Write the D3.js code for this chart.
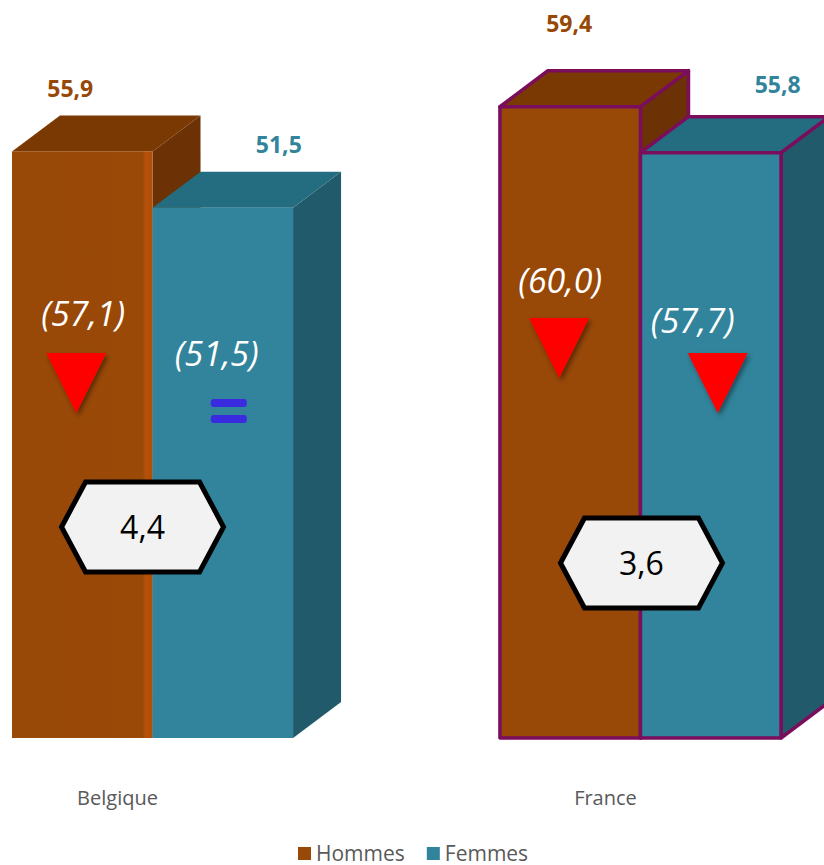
<!DOCTYPE html>
<html>
<head>
<meta charset="utf-8">
<script src="https://cdn.jsdelivr.net/npm/d3@7"></script>
<style>
  html, body { margin: 0; padding: 0; background: #ffffff; }
  svg { display: block; font-family: "Open Sans", "DejaVu Sans", sans-serif; }
</style>
</head>
<body>
<svg id="chart" width="824" height="865"></svg>
<script>
// Taux d'emploi par sexe (valeur de l'année précédente entre parenthèses)
const countries = ["Belgique", "France"];
const series = ["Hommes", "Femmes"];
const hommes = [55.9, 59.4];
const femmes = [51.5, 55.8];
const hommesPrev = [57.1, 60.0];
const femmesPrev = [51.5, 57.7];
const valueLabels = { Hommes: ["55,9", "59,4"], Femmes: ["51,5", "55,8"] };

const fmt = v => d3.format(".1f")(v).replace(".", ",");

const svg = d3.select("#chart");

// Scales
const x = d3.scaleBand().domain(countries).range([12, 781]).paddingInner(0.424);
const xs = d3.scaleBand().domain(series).range([0, x.bandwidth()]);
const y = d3.scaleLinear().domain([10, 60]).range([738, 99]);

const depth = { dx: 48, dy: -36 };

const palette = {
  Hommes: { front: "#984807", top: "#7a3803", side: "#6c3104", label: "#974706" },
  Femmes: { front: "#31849b", top: "#246d81", side: "#215b6b", label: "#31849b" }
};
const outline = { Belgique: null, France: "#7b0d5d" };

// Per-mark text placement (relative to the front face centre / top)
const valueNudge = {
  Belgique: { Hommes: [-12, -54], Femmes: [56, -55] },
  France:   { Hommes: [-1, -75],  Femmes: [67, -60] }
};
const prevNudge = {
  Belgique: { Hommes: [1, 326], Femmes: [-6, 366] },
  France:   { Hommes: [-10, 293], Femmes: [-18, 333] }
};
const markerNudge = {
  Belgique: { Hommes: [-6, 353], Femmes: [6, 399] },
  France:   { Hommes: [-11, 318], Femmes: [7, 353] }
};
const hexY = { Belgique: 527, France: 563 };

const rows = countries.map((c, i) => ({
  country: c,
  bars: [
    { s: "Hommes", v: hommes[i], prev: hommesPrev[i], label: valueLabels.Hommes[i] },
    { s: "Femmes", v: femmes[i], prev: femmesPrev[i], label: valueLabels.Femmes[i] }
  ]
}));

const defs = svg.append("defs");
const shadow = defs.append("filter").attr("id", "shadow")
  .attr("x", "-30%").attr("y", "-30%").attr("width", "160%").attr("height", "160%");
shadow.append("feDropShadow").attr("dx", 2).attr("dy", 3)
  .attr("stdDeviation", 2.5).attr("flood-color", "#000").attr("flood-opacity", 0.45);

const edge = defs.append("linearGradient").attr("id", "edgeH").attr("x1", 0).attr("x2", 1);
edge.append("stop").attr("offset", "0%").attr("stop-color", "#984807");
edge.append("stop").attr("offset", "93%").attr("stop-color", "#9a4907");
edge.append("stop").attr("offset", "95%").attr("stop-color", "#b5500a");
edge.append("stop").attr("offset", "100%").attr("stop-color", "#b14e08");

const base = y.domain()[0];

rows.forEach(row => {
  const g = svg.append("g").attr("class", "group");
  const stroke = outline[row.country];

  row.bars.forEach(b => {
    const x0 = x(row.country) + xs(b.s);
    const w = xs.bandwidth();
    const yt = y(b.v), yb = y(base);
    const { dx, dy } = depth;
    const col = palette[b.s];
    const bar = g.append("g");

    const style = sel => sel
      .attr("stroke", stroke || "none")
      .attr("stroke-width", stroke ? 3.5 : 0)
      .attr("stroke-linejoin", "round");

    bar.append("polygon")
      .attr("points", [[x0 + w, yt], [x0 + w + dx, yt + dy], [x0 + w + dx, yb + dy], [x0 + w, yb]].join(" "))
      .attr("fill", col.side).call(style);
    bar.append("polygon")
      .attr("points", [[x0, yt], [x0 + dx, yt + dy], [x0 + w + dx, yt + dy], [x0 + w, yt]].join(" "))
      .attr("fill", col.top).call(style);
    bar.append("rect")
      .attr("x", x0).attr("y", yt).attr("width", w).attr("height", yb - yt)
      .attr("fill", (!stroke && b.s === "Hommes") ? "url(#edgeH)" : col.front)
      .call(style);
  });
});

// Value labels, previous-year values and trend markers
rows.forEach(row => {
  row.bars.forEach(b => {
    const cx = x(row.country) + xs(b.s) + xs.bandwidth() / 2;
    const yt = y(b.v);
    const vn = valueNudge[row.country][b.s];
    svg.append("text")
      .attr("x", cx + vn[0]).attr("y", yt + vn[1])
      .attr("text-anchor", "middle")
      .attr("font-size", 23).attr("font-weight", 700)
      .attr("fill", palette[b.s].label)
      .text(b.label);

    const pn = prevNudge[row.country][b.s];
    svg.append("text")
      .attr("x", cx + pn[0]).attr("y", pn[1])
      .attr("text-anchor", "middle")
      .attr("font-size", 34).attr("font-style", "italic")
      .attr("fill", "#ffffff")
      .text("(" + fmt(b.prev) + ")");

    const mn = markerNudge[row.country][b.s];
    const mx = cx + mn[0], my = mn[1];
    if (b.v < b.prev) {
      svg.append("polygon")
        .attr("points", [[mx - 30, my], [mx + 30, my], [mx, my + 60]].join(" "))
        .attr("fill", "#ff0000")
        .attr("filter", "url(#shadow)");
    } else if (b.v > b.prev) {
      svg.append("polygon")
        .attr("points", [[mx - 30, my + 60], [mx + 30, my + 60], [mx, my]].join(" "))
        .attr("fill", "#00b050")
        .attr("filter", "url(#shadow)");
    } else {
      [0, 16].forEach(off => {
        svg.append("rect")
          .attr("x", mx - 18).attr("y", my + off)
          .attr("width", 36).attr("height", 8).attr("rx", 3)
          .attr("fill", "#3b2be0");
      });
    }
  });

  // Gap badge (Hommes - Femmes)
  const gap = row.bars[0].v - row.bars[1].v;
  const hx = x(row.country) + xs.bandwidth() - 10 + (row.country === "France" ? 11 : 0);
  const hy = hexY[row.country];
  const hw = 81, hh = 45, cut = 24;
  const hex = [[hx - hw, hy], [hx - hw + cut, hy - hh], [hx + hw - cut, hy - hh],
               [hx + hw, hy], [hx + hw - cut, hy + hh], [hx - hw + cut, hy + hh]];
  svg.append("polygon")
    .attr("points", hex.join(" "))
    .attr("fill", "#f2f2f2").attr("stroke", "#000").attr("stroke-width", 5)
    .attr("stroke-linejoin", "miter");
  svg.append("text")
    .attr("x", hx).attr("y", hy + 12)
    .attr("text-anchor", "middle")
    .attr("font-size", 32).attr("fill", "#000")
    .text(fmt(gap));

  // Category label
  svg.append("text")
    .attr("x", x(row.country) + x.bandwidth() / 2 - 35)
    .attr("y", 805)
    .attr("text-anchor", "middle")
    .attr("font-size", 20).attr("fill", "#595959")
    .text(row.country);
});

// Legend
const legend = svg.append("g").attr("transform", "translate(298,847)");
let lx = 0;
series.forEach(s => {
  const item = legend.append("g").attr("transform", `translate(${lx},0)`);
  item.append("rect").attr("width", 13).attr("height", 13).attr("fill", palette[s].front);
  const t = item.append("text").attr("x", 18).attr("y", 13.5)
    .attr("font-size", 21).attr("fill", "#595959").text(s);
  lx += 18 + t.node().getComputedTextLength() + 22;
});
</script>
</body>
</html>
